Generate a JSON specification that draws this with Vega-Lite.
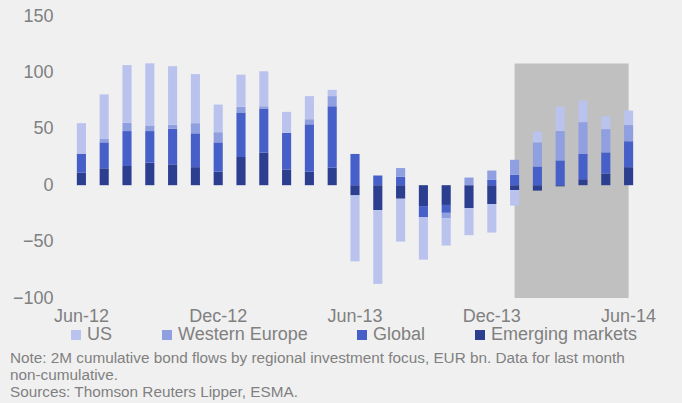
{
  "$schema": "https://vega.github.io/schema/vega-lite/v6.json",
  "width": 570,
  "height": 282,
  "autosize": {"type": "none"},
  "padding": {"left": 70, "top": 16, "right": 42, "bottom": 105},
  "background": "#f0f0f0",
  "config": {
    "view": {"stroke": null},
    "font": "Liberation Sans",
    "axis": {"labelFont": "Liberation Sans", "labelColor": "#808080", "labelFontSize": 18, "domain": false, "ticks": false, "tickSize": 0, "grid": false, "title": null},
    "legend": {"labelFont": "Liberation Sans", "labelColor": "#808080", "labelFontSize": 18}
  },
  "datasets": {
    "flows": [
      {"m": "Jun-12", "region": "Emerging markets", "v": 11}, {"m": "Jun-12", "region": "Global", "v": 17}, {"m": "Jun-12", "region": "Western Europe", "v": 0}, {"m": "Jun-12", "region": "US", "v": 27},
      {"m": "Jul-12", "region": "Emerging markets", "v": 15}, {"m": "Jul-12", "region": "Global", "v": 23}, {"m": "Jul-12", "region": "Western Europe", "v": 3}, {"m": "Jul-12", "region": "US", "v": 39.5},
      {"m": "Aug-12", "region": "Emerging markets", "v": 17}, {"m": "Aug-12", "region": "Global", "v": 31}, {"m": "Aug-12", "region": "Western Europe", "v": 7.5}, {"m": "Aug-12", "region": "US", "v": 51},
      {"m": "Sep-12", "region": "Emerging markets", "v": 20}, {"m": "Sep-12", "region": "Global", "v": 28}, {"m": "Sep-12", "region": "Western Europe", "v": 5}, {"m": "Sep-12", "region": "US", "v": 55},
      {"m": "Oct-12", "region": "Emerging markets", "v": 18.5}, {"m": "Oct-12", "region": "Global", "v": 31.5}, {"m": "Oct-12", "region": "Western Europe", "v": 3.5}, {"m": "Oct-12", "region": "US", "v": 52},
      {"m": "Nov-12", "region": "Emerging markets", "v": 16}, {"m": "Nov-12", "region": "Global", "v": 30}, {"m": "Nov-12", "region": "Western Europe", "v": 9}, {"m": "Nov-12", "region": "US", "v": 43.5},
      {"m": "Dec-12", "region": "Emerging markets", "v": 12}, {"m": "Dec-12", "region": "Global", "v": 26}, {"m": "Dec-12", "region": "Western Europe", "v": 9}, {"m": "Dec-12", "region": "US", "v": 24.5},
      {"m": "Jan-13", "region": "Emerging markets", "v": 25}, {"m": "Jan-13", "region": "Global", "v": 39.5}, {"m": "Jan-13", "region": "Western Europe", "v": 5}, {"m": "Jan-13", "region": "US", "v": 28.5},
      {"m": "Feb-13", "region": "Emerging markets", "v": 29}, {"m": "Feb-13", "region": "Global", "v": 39}, {"m": "Feb-13", "region": "Western Europe", "v": 2}, {"m": "Feb-13", "region": "US", "v": 31},
      {"m": "Mar-13", "region": "Emerging markets", "v": 14}, {"m": "Mar-13", "region": "Global", "v": 32.5}, {"m": "Mar-13", "region": "Western Europe", "v": 0}, {"m": "Mar-13", "region": "US", "v": 18.5},
      {"m": "Apr-13", "region": "Emerging markets", "v": 12}, {"m": "Apr-13", "region": "Global", "v": 42}, {"m": "Apr-13", "region": "Western Europe", "v": 4.5}, {"m": "Apr-13", "region": "US", "v": 20.5},
      {"m": "May-13", "region": "Emerging markets", "v": 15.5}, {"m": "May-13", "region": "Global", "v": 54.5}, {"m": "May-13", "region": "Western Europe", "v": 9}, {"m": "May-13", "region": "US", "v": 5.5},
      {"m": "Jun-13", "region": "Emerging markets", "v": -9}, {"m": "Jun-13", "region": "Global", "v": 27.7}, {"m": "Jun-13", "region": "Western Europe", "v": 0}, {"m": "Jun-13", "region": "US", "v": -58.5},
      {"m": "Jul-13", "region": "Emerging markets", "v": -22}, {"m": "Jul-13", "region": "Global", "v": 8.5}, {"m": "Jul-13", "region": "Western Europe", "v": 0.5}, {"m": "Jul-13", "region": "US", "v": -65.5},
      {"m": "Aug-13", "region": "Emerging markets", "v": -12}, {"m": "Aug-13", "region": "Global", "v": 7.4}, {"m": "Aug-13", "region": "Western Europe", "v": 7.8}, {"m": "Aug-13", "region": "US", "v": -38},
      {"m": "Sep-13", "region": "Emerging markets", "v": -18.5}, {"m": "Sep-13", "region": "Global", "v": -10}, {"m": "Sep-13", "region": "Western Europe", "v": 0}, {"m": "Sep-13", "region": "US", "v": -37.5},
      {"m": "Oct-13", "region": "Emerging markets", "v": -17.5}, {"m": "Oct-13", "region": "Global", "v": -7}, {"m": "Oct-13", "region": "Western Europe", "v": -5}, {"m": "Oct-13", "region": "US", "v": -24},
      {"m": "Nov-13", "region": "Emerging markets", "v": -20.3}, {"m": "Nov-13", "region": "Global", "v": 0}, {"m": "Nov-13", "region": "Western Europe", "v": 6.8}, {"m": "Nov-13", "region": "US", "v": -24},
      {"m": "Dec-13", "region": "Emerging markets", "v": -16.7}, {"m": "Dec-13", "region": "Global", "v": 4.7}, {"m": "Dec-13", "region": "Western Europe", "v": 8.3}, {"m": "Dec-13", "region": "US", "v": -25.3},
      {"m": "Jan-14", "region": "Emerging markets", "v": -4.3}, {"m": "Jan-14", "region": "Global", "v": 9.2}, {"m": "Jan-14", "region": "Western Europe", "v": 13.3}, {"m": "Jan-14", "region": "US", "v": -13.8},
      {"m": "Feb-14", "region": "Emerging markets", "v": -4.8}, {"m": "Feb-14", "region": "Global", "v": 16.6}, {"m": "Feb-14", "region": "Western Europe", "v": 21.4}, {"m": "Feb-14", "region": "US", "v": 9.6},
      {"m": "Mar-14", "region": "Emerging markets", "v": -1}, {"m": "Mar-14", "region": "Global", "v": 22}, {"m": "Mar-14", "region": "Western Europe", "v": 26}, {"m": "Mar-14", "region": "US", "v": 21.4},
      {"m": "Apr-14", "region": "Emerging markets", "v": 5.3}, {"m": "Apr-14", "region": "Global", "v": 22.4}, {"m": "Apr-14", "region": "Western Europe", "v": 28.2}, {"m": "Apr-14", "region": "US", "v": 19.1},
      {"m": "May-14", "region": "Emerging markets", "v": 10.4}, {"m": "May-14", "region": "Global", "v": 18.7}, {"m": "May-14", "region": "Western Europe", "v": 20.6}, {"m": "May-14", "region": "US", "v": 11.3},
      {"m": "Jun-14", "region": "Emerging markets", "v": 16}, {"m": "Jun-14", "region": "Global", "v": 23}, {"m": "Jun-14", "region": "Western Europe", "v": 14.3}, {"m": "Jun-14", "region": "US", "v": 12.9}
    ],
    "shade": [{"start": "Jan-14", "end": "Jun-14", "lo": -100, "hi": 108}]
  },
  "title": {
    "text": ["Note: 2M cumulative bond flows by regional investment focus, EUR bn. Data for last month", "non-cumulative.", "Sources: Thomson Reuters Lipper, ESMA."],
    "orient": "bottom",
    "anchor": "start",
    "frame": "group",
    "dx": -60,
    "offset": 7,
    "font": "Liberation Sans",
    "fontSize": 15.3,
    "fontWeight": "normal",
    "color": "#808080",
    "lineHeight": 17
  },
  "encoding": {
    "x": {
      "field": "m",
      "type": "ordinal",
      "sort": null,
      "scale": {"domain": ["Jun-12","Jul-12","Aug-12","Sep-12","Oct-12","Nov-12","Dec-12","Jan-13","Feb-13","Mar-13","Apr-13","May-13","Jun-13","Jul-13","Aug-13","Sep-13","Oct-13","Nov-13","Dec-13","Jan-14","Feb-14","Mar-14","Apr-14","May-14","Jun-14"], "paddingInner": 0.6, "paddingOuter": 0.3},
      "axis": {"values": ["Jun-12","Dec-12","Jun-13","Dec-13","Jun-14"], "labelAngle": 0, "labelPadding": 9}
    }
  },
  "layer": [
    {
      "data": {"name": "shade"},
      "mark": {"type": "rect", "color": "#c0c0c0"},
      "encoding": {
        "x": {"field": "start", "type": "ordinal", "bandPosition": 0.5},
        "x2": {"field": "end", "bandPosition": 0.5},
        "y": {"field": "lo", "type": "quantitative"},
        "y2": {"field": "hi"}
      }
    },
    {
      "data": {"name": "flows"},
      "transform": [{"calculate": "indexof(['Emerging markets','Global','Western Europe','US'], datum.region)", "as": "stackorder"}],
      "mark": {"type": "bar"},
      "encoding": {
        "y": {
          "field": "v",
          "type": "quantitative",
          "stack": "zero",
          "scale": {"domain": [-100, 150], "nice": false, "zero": false},
          "axis": {"values": [-100, -50, 0, 50, 100, 150], "labelPadding": 17}
        },
        "color": {
          "field": "region",
          "type": "nominal",
          "scale": {"domain": ["US", "Western Europe", "Global", "Emerging markets"], "range": ["#b9c3ee", "#8f9fe0", "#4760c9", "#2c3e8f"]},
          "legend": {"title": null, "orient": "none", "direction": "horizontal", "legendX": -3, "legendY": 310, "symbolType": "square", "symbolSize": 100, "symbolStrokeWidth": 0, "columnPadding": 45, "labelOffset": 2, "labelLimit": 300}
        },
        "order": {"field": "stackorder", "type": "quantitative"}
      }
    },
    {
      "mark": {"type": "rule", "color": "#8c8c8c", "strokeWidth": 2},
      "encoding": {"y": {"datum": 0, "type": "quantitative"}, "x": null}
    }
  ]
}
